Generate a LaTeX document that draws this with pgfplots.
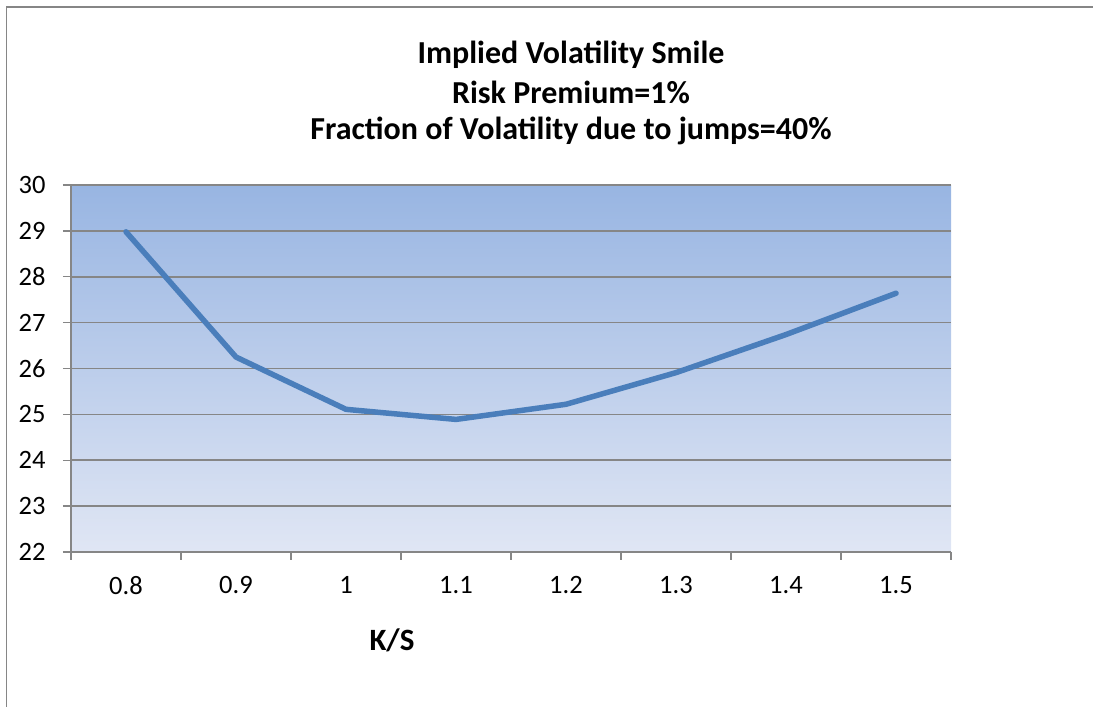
\documentclass[border=0pt]{standalone}
\usepackage{pgfplots}
\pgfplotsset{compat=1.18}
\usepackage{fontspec}
\setmainfont{Carlito}
\definecolor{linec}{RGB}{74,126,187}
\definecolor{gridc}{RGB}{134,134,134}
\definecolor{topc}{RGB}{152,181,226}
\definecolor{botc}{RGB}{224,230,244}
\begin{document}
\begin{tikzpicture}[x=1pt,y=1pt]
\path[use as bounding box] (0,0) rectangle (1093,707);
\draw[gridc, line width=1.5pt] (6.5,0) -- (6.5,700) -- (1093,700);
\node[font=\fontsize{32}{38}\selectfont\bfseries] at (571,652) {Implied Volatility Smile};
\node[font=\fontsize{32}{38}\selectfont\bfseries] at (571,615) {Risk Premium=1\%};
\node[font=\fontsize{32}{38}\selectfont\bfseries] at (571,576) {Fraction of Volatility due to jumps=40\%};
\node[font=\fontsize{31}{37}\selectfont\bfseries] at (392,67) {K/S};
\begin{axis}[
  at={(71pt,155pt)}, anchor=south west,
  scale only axis, width=880pt, height=367pt,
  xmin=-0.5, xmax=7.5, ymin=22, ymax=30,
  axis x line*=bottom, axis y line*=left,
  axis line style={gridc, line width=1.5pt},
  axis background/.style={top color=topc, bottom color=botc},
  xtick={-0.5,0.5,1.5,2.5,3.5,4.5,5.5,6.5,7.5},
  x tick label as interval,
  xticklabels={0.8,0.9,1,1.1,1.2,1.3,1.4,1.5},
  ytick={22,23,24,25,26,27,28,29,30},
  tick align=outside, major tick length=8pt,
  tick style={gridc, line width=1.3pt},
  ymajorgrids, grid style={gridc, line width=1.5pt},
  tick label style={font=\fontsize{26.5}{31}\selectfont},
  /pgf/number format/assume math mode=true,
  yticklabel style={xshift=-14pt},
  xticklabel style={yshift=-13pt},
  clip=false,
]
\addplot[linec, line width=5.5pt, line join=round, line cap=round] coordinates {
 (0,28.98) (1,26.25) (2,25.11) (3,24.89) (4,25.22) (5,25.91) (6,26.74) (7,27.64)
};
\end{axis}
\end{tikzpicture}
\end{document}
